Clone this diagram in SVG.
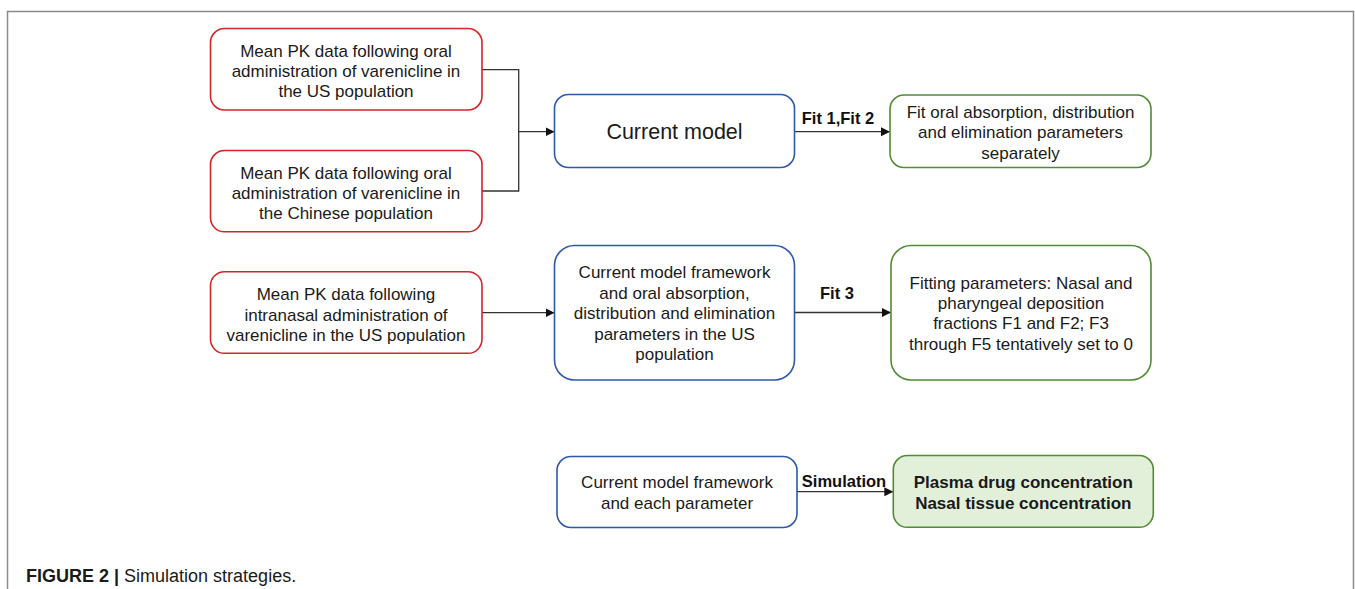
<svg xmlns="http://www.w3.org/2000/svg" width="1355" height="589" viewBox="0 0 1355 589">
  <style>
    .box { fill: #ffffff; stroke-width: 1.6; }
    .red { stroke: #d42528; }
    .blue { stroke: #2f58a8; }
    .green { stroke: #4f8d33; }
    .filled { fill: #e2efd9; }
    .t { font-family: "Liberation Sans", Arial, sans-serif; font-size: 17px; fill: #1a1a1a; text-anchor: middle; }
    .big { font-size: 21.5px; }
    .b { font-weight: bold; }
    .lbl { font-family: "Liberation Sans", Arial, sans-serif; font-size: 16.5px; font-weight: bold; fill: #111; text-anchor: middle; }
    .wire { fill: none; stroke: #333; stroke-width: 1.3; }
    .cap { font-family: "Liberation Sans", Arial, sans-serif; font-size: 18px; fill: #1a1a1a; }
  </style>
  <defs>
    <marker id="arrow" markerUnits="userSpaceOnUse" markerWidth="10" markerHeight="10" refX="9" refY="4.5" orient="auto">
      <path d="M0,0 L9,4.5 L0,9 z" fill="#111"/>
    </marker>
  </defs>

  <rect width="1355" height="589" fill="#ffffff"/>
  <!-- page frame, open at the bottom -->
  <polyline points="7.5,589 7.5,11.5 1353.5,11.5 1353.5,589" fill="none" stroke="#8a8a8a" stroke-width="1.5"/>

  <!-- connectors -->
  <g id="connectors">
    <polyline class="wire" points="482,69.7 518.7,69.7 518.7,191 482,191"/>
    <line class="wire" x1="518.7" y1="131.7" x2="554.5" y2="131.7" marker-end="url(#arrow)"/>
    <line class="wire" x1="794.5" y1="131.7" x2="890" y2="131.7" marker-end="url(#arrow)"/>
    <text class="lbl" x="838" y="124">Fit 1,Fit 2</text>
    <line class="wire" x1="482" y1="312.7" x2="554.5" y2="312.7" marker-end="url(#arrow)"/>
    <line class="wire" x1="794.5" y1="312.5" x2="891" y2="312.5" marker-end="url(#arrow)"/>
    <text class="lbl" x="837" y="299">Fit 3</text>
    <line class="wire" x1="797" y1="491.7" x2="893.3" y2="491.7" marker-end="url(#arrow)"/>
    <text class="lbl" x="844" y="487">Simulation</text>
  </g>

  <!-- oral data, US -->
  <g id="oral-us">
    <rect class="box red" x="210.5" y="28.5" width="271.5" height="81.5" rx="14"/>
    <text class="t" x="346" y="57">Mean PK data following oral</text>
    <text class="t" x="346" y="77.2">administration of varenicline in</text>
    <text class="t" x="346" y="97.4">the US population</text>
  </g>

  <!-- oral data, Chinese -->
  <g id="oral-cn">
    <rect class="box red" x="210.5" y="150.5" width="271.5" height="81.3" rx="14"/>
    <text class="t" x="346" y="179">Mean PK data following oral</text>
    <text class="t" x="346" y="199.2">administration of varenicline in</text>
    <text class="t" x="346" y="219.4">the Chinese population</text>
  </g>

  <!-- intranasal data, US -->
  <g id="nasal-us">
    <rect class="box red" x="210.5" y="271.7" width="271.5" height="81.6" rx="14"/>
    <text class="t" x="346" y="300.3">Mean PK data following</text>
    <text class="t" x="346" y="320.5">intranasal administration of</text>
    <text class="t" x="346" y="340.7">varenicline in the US population</text>
  </g>

  <!-- model -->
  <g id="model">
    <rect class="box blue" x="554.5" y="94.5" width="240" height="73" rx="14"/>
    <text class="t big" x="674.5" y="139">Current model</text>
  </g>

  <!-- model with oral parameters -->
  <g id="model-oral">
    <rect class="box blue" x="554.5" y="245.5" width="240" height="134.5" rx="20"/>
    <text class="t" x="674.5" y="278.4">Current model framework</text>
    <text class="t" x="674.5" y="298.8">and oral absorption,</text>
    <text class="t" x="674.5" y="319.2">distribution and elimination</text>
    <text class="t" x="674.5" y="339.6">parameters in the US</text>
    <text class="t" x="674.5" y="360">population</text>
  </g>

  <!-- model with all parameters -->
  <g id="model-all">
    <rect class="box blue" x="557" y="456.5" width="240" height="71" rx="14"/>
    <text class="t" x="677" y="488">Current model framework</text>
    <text class="t" x="677" y="508.7">and each parameter</text>
  </g>

  <!-- fit 1 and 2 result -->
  <g id="fit-oral">
    <rect class="box green" x="890" y="95" width="261" height="72.5" rx="14"/>
    <text class="t" x="1020.5" y="118.1">Fit oral absorption, distribution</text>
    <text class="t" x="1020.5" y="138.3">and elimination parameters</text>
    <text class="t" x="1020.5" y="158.5">separately</text>
  </g>

  <!-- fit 3 result -->
  <g id="fit-nasal">
    <rect class="box green" x="891" y="245.5" width="260" height="134.5" rx="20"/>
    <text class="t" x="1021" y="288.5">Fitting parameters: Nasal and</text>
    <text class="t" x="1021" y="308.9">pharyngeal deposition</text>
    <text class="t" x="1021" y="329.3">fractions F1 and F2; F3</text>
    <text class="t" x="1021" y="349.7">through F5 tentatively set to 0</text>
  </g>

  <!-- simulation output -->
  <g id="output">
    <rect class="box green filled" x="893.3" y="455.5" width="260" height="71.8" rx="14"/>
    <text class="t b" x="1023.3" y="488">Plasma drug concentration</text>
    <text class="t b" x="1023.3" y="509">Nasal tissue concentration</text>
  </g>

  <!-- caption -->
  <text class="cap" x="26" y="581.5"><tspan font-weight="bold">FIGURE 2 |</tspan> Simulation strategies.</text>
</svg>
